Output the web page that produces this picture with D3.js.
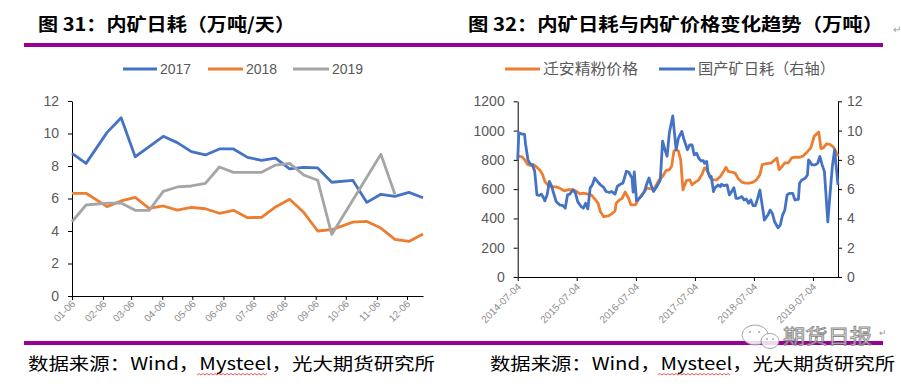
<!DOCTYPE html>
<html><head><meta charset="utf-8">
<script src="https://cdn.jsdelivr.net/npm/d3@7"></script>
<style>body{margin:0;background:#fff}svg{display:block}</style>
</head><body>
<svg id="c" width="901" height="390"></svg>
<script>
// ---------- Left chart data (图31) ----------
const leftSeriesNames = ["2017", "2018", "2019"];
const leftColors = ["#4472C4", "#ED7D31", "#A5A5A5"];
const sampleDates = ["01-06","01-20","02-10","02-24","03-10","03-24","04-07","04-21","05-05","05-19",
  "06-02","06-16","06-30","07-14","07-28","08-11","08-25","09-08","09-22","10-13",
  "10-27","11-10","11-24","12-08","12-22"];
const cons2017 = [8.78,8.16,10.07,10.97,8.57,9.19,9.83,9.44,8.88,8.68,
  9.05,9.05,8.53,8.35,8.49,7.82,7.92,7.88,7.0,7.12,
  5.76,6.26,6.13,6.38,6.05];
const cons2018 = [6.32,6.32,5.50,5.85,6.07,5.39,5.54,5.29,5.46,5.37,
  5.09,5.27,4.82,4.84,5.48,5.95,5.15,4.0,4.08,4.55,
  4.59,4.18,3.49,3.36,3.82];
const cons2019 = [4.57,5.60,5.72,5.72,5.27,5.27,6.44,6.71,6.77,6.93,
  7.94,7.61,7.61,7.61,8.06,8.16,7.45,7.12,3.79,null,
  null,8.72,6.26,null,null];
const leftMonthTicks = ["01-06","02-06","03-06","04-06","05-06","06-06","07-06","08-06","09-06","10-06","11-06","12-06"];
const leftYTicks = [0,2,4,6,8,10,12];

// ---------- Right chart data (图32) ----------
const rightStart = "2014-07-04";
const rightEndWeek = 283;
const rightDateTicks = ["2014-07-04","2015-07-04","2016-07-04","2017-07-04","2018-07-04","2019-07-04"];
const rightYTicksL = [0,200,400,600,800,1000,1200];
const rightYTicksR = [0,2,4,6,8,10,12];
const priceName = "迁安精粉价格";
const consName = "国产矿日耗（右轴）";
const priceWeeks = [0,4,6,9,12,14,17,20,22,24,
  27,30,34,37,41,45,49,52,55,58,
  61,65,68,71,73,76,80,83,86,87,
  90,92,95,98,100,104,107,111,114,117,
  120,123,125,128,131,134,136,138,140,142,
  144,145,146,149,152,154,157,160,163,165,
  167,169,172,176,179,182,184,186,189,192,
  195,198,201,205,208,211,214,216,220,224,
  229,231,233,236,239,242,245,249,252,255,
  259,262,266,268,270,273,276,279,281,283];
const priceValues = [825,820,802,767,761,767,749,726,699,653,
  625,616,616,607,589,596,596,584,568,573,
  568,561,534,504,447,412,417,431,451,504,
  527,534,580,538,493,493,534,573,607,603,
  600,635,664,687,726,733,756,859,871,859,
  802,699,596,658,664,630,648,664,703,745,
  733,699,664,664,687,722,749,722,717,710,
  671,648,641,641,648,664,699,767,774,779,
  813,733,749,779,779,813,818,818,825,848,
  882,962,990,877,882,910,905,887,859,825];
const consWeeks = [0,1,3,6,7,9,11,13,15,17,
  19,21,23,24,26,28,30,32,34,37,
  40,42,44,46,49,51,53,56,58,60,
  62,64,66,68,71,73,76,78,81,83,
  86,88,91,93,96,98,101,102,103,105,
  107,109,112,114,116,118,120,123,125,126,
  128,130,132,134,137,140,142,145,147,150,
  152,154,156,158,160,162,164,165,167,168,
  170,171,173,174,177,179,180,182,185,187,
  189,191,193,195,198,200,202,204,206,208,
  210,212,214,216,218,221,223,225,227,230,
  232,234,236,238,240,243,245,248,249,251,
  254,256,257,260,263,265,267,269,271,274,
  276,278,280,283];
const consValues = [8.0,9.85,9.78,9.74,9.05,8.02,7.72,7.67,7.22,5.61,
  5.57,5.66,5.38,5.20,5.61,6.53,6.19,5.66,5.15,4.93,
  4.88,4.70,5.61,5.66,5.96,5.73,5.15,4.81,4.70,5.04,
  4.65,6.07,6.30,6.76,6.48,6.30,6.12,5.84,5.77,5.84,
  5.66,6.19,6.35,6.41,7.22,7.17,6.76,5.80,7.17,5.20,
  5.34,5.50,5.84,6.35,6.76,6.25,5.84,6.19,6.48,6.64,
  9.28,8.71,8.25,9.85,11.0,8.69,9.49,9.94,9.37,8.69,
  9.03,9.03,8.34,8.46,8.11,7.93,7.95,7.77,7.89,7.2,
  6.79,6.86,5.83,6.06,6.29,6.17,6.33,6.24,6.29,5.6,
  5.83,6.10,5.37,5.37,5.49,5.26,5.33,5.03,5.26,4.87,
  4.87,5.37,5.94,4.91,3.89,4.23,4.57,4.34,3.77,3.36,
  3.54,4.23,4.57,5.6,5.71,5.71,5.26,5.30,6.4,6.63,
  6.74,6.97,8.0,7.66,7.66,7.77,8.23,7.66,7.2,3.77,
  5.71,7.54,8.69,6.29];

const title1 = "图 31：内矿日耗（万吨/天）";
const title2 = "图 32：内矿日耗与内矿价格变化趋势（万吨）";
const sourceText = "数据来源：Wind，Mysteel，光大期货研究所";

// ---------- drawing ----------
const svg = d3.select("#c");
const CJK = "'Noto Sans CJK SC', sans-serif";
const NUM = "'Liberation Sans', Arial, sans-serif";
const PURPLE = "#990099";
const GREY = "#595959";
const parseMD = d3.utcParse("%Y-%m-%d");
const mdDate = s => parseMD("2019-" + s);

// frame: titles + purple rules
svg.append("text").attr("x", 38).attr("y", 31).attr("font-family", CJK).attr("font-weight", 700)
  .attr("font-size", 18).attr("fill", "#000").attr("textLength", 257).attr("lengthAdjust", "spacingAndGlyphs").text(title1);
svg.append("text").attr("x", 468).attr("y", 31).attr("font-family", CJK).attr("font-weight", 700)
  .attr("font-size", 18).attr("fill", "#000").attr("textLength", 415).attr("lengthAdjust", "spacingAndGlyphs").text(title2);
svg.append("text").attr("x", 893).attr("y", 33).attr("font-size", 10).attr("fill", "#999").attr("font-family", CJK).text("↵");
[[24, 450], [450, 883]].forEach(([a, b]) => {
  svg.append("line").attr("x1", a).attr("x2", b).attr("y1", 45).attr("y2", 45).attr("stroke", PURPLE).attr("stroke-width", 4);
  svg.append("line").attr("x1", a).attr("x2", b).attr("y1", 343).attr("y2", 343).attr("stroke", PURPLE).attr("stroke-width", 4);
});
[[28, 407], [490, 405]].forEach(([x, w]) => {
  svg.append("text").attr("x", x).attr("y", 370).attr("font-family", CJK).attr("font-size", 17).attr("fill", "#000")
    .attr("textLength", w).attr("lengthAdjust", "spacingAndGlyphs").text(sourceText);
});
// spell-check wavy underline under "Mysteel"
[[197, 268], [658, 730]].forEach(([a, b]) => {
  let d = `M${a},375`;
  for (let x = a + 2, k = 0; x <= b; x += 2, k++) d += `L${x},${k % 2 ? 375 : 373.5}`;
  svg.append("path").attr("d", d).attr("fill", "none").attr("stroke", "#e03030").attr("stroke-width", 0.8);
});

function styleAxis(g) {
  g.selectAll(".domain").attr("stroke", "#000").attr("stroke-width", 1);
  g.selectAll(".tick line").attr("stroke", "#000");
  g.selectAll(".tick text").attr("fill", GREY).attr("font-family", NUM);
}

// ---------- Left chart ----------
const lx = d3.scaleUtc().domain([mdDate("01-06"), mdDate("12-22")]).range([72, 423]);
const ly = d3.scaleLinear().domain([0, 12]).range([296, 101]);

const gly = svg.append("g").attr("transform", "translate(72,0)")
  .call(d3.axisLeft(ly).tickValues(leftYTicks).tickFormat(d3.format("d")).tickSize(4).tickSizeOuter(0).tickPadding(9));
styleAxis(gly); gly.selectAll(".tick text").attr("font-size", 14);
const glx = svg.append("g").attr("transform", "translate(0,296)")
  .call(d3.axisBottom(lx).tickValues(leftMonthTicks.map(mdDate)).tickFormat(d3.utcFormat("%m-%d")).tickSize(4).tickSizeOuter(0));
styleAxis(glx);
glx.selectAll(".tick text").attr("font-size", 10).attr("fill", "#8c8c8c").attr("text-anchor", "end")
  .attr("x", 0).attr("y", 0).attr("dy", "0.35em").attr("transform", "translate(1,6) rotate(-45)");

const leftSeries = [cons2017, cons2018, cons2019];
leftSeries.forEach((vals, i) => {
  const pts = sampleDates.map((d, j) => [mdDate(d), vals[j]]).filter(p => p[1] != null);
  svg.append("path").datum(pts).attr("fill", "none").attr("stroke", leftColors[i]).attr("stroke-width", 2.8)
    .attr("stroke-linejoin", "round")
    .attr("d", d3.line().x(p => lx(p[0])).y(p => ly(p[1])));
});
// left legend
const legL = [[123, 157, 160], [208, 243, 246], [293, 329, 332]];
leftSeriesNames.forEach((n, i) => {
  const [a, b, t] = legL[i];
  svg.append("line").attr("x1", a).attr("x2", b).attr("y1", 69).attr("y2", 69).attr("stroke", leftColors[i]).attr("stroke-width", 3);
  svg.append("text").attr("x", t).attr("y", 74).attr("font-family", NUM).attr("font-size", 14).attr("fill", GREY).text(n);
});

// ---------- Right chart ----------
const start = parseMD(rightStart);
const wk = w => d3.utcDay.offset(start, w * 7);
const rx = d3.scaleUtc().domain([start, wk(rightEndWeek)]).range([517.7, 838]);
const ryL = d3.scaleLinear().domain([0, 1200]).range([277, 101.3]);
const ryR = d3.scaleLinear().domain([0, 12]).range([277, 101.3]);

const gyl = svg.append("g").attr("transform", "translate(517.7,0)")
  .call(d3.axisLeft(ryL).tickValues(rightYTicksL).tickFormat(d3.format("d")).tickSize(4).tickSizeOuter(0).tickPadding(9));
styleAxis(gyl); gyl.selectAll(".tick text").attr("font-size", 14);
const gyr = svg.append("g").attr("transform", "translate(838,0)")
  .call(d3.axisRight(ryR).tickValues(rightYTicksR).tickFormat(d3.format("d")).tickSize(4).tickSizeOuter(0).tickPadding(5));
styleAxis(gyr); gyr.selectAll(".tick text").attr("font-size", 14);
const gx = svg.append("g").attr("transform", "translate(0,277)")
  .call(d3.axisBottom(rx).tickValues(rightDateTicks.map(parseMD)).tickFormat(d3.utcFormat("%Y-%m-%d")).tickSize(4).tickSizeOuter(0));
styleAxis(gx);
gx.selectAll(".tick text").attr("font-size", 10).attr("fill", "#8c8c8c").attr("text-anchor", "end")
  .attr("x", 0).attr("y", 0).attr("dy", "0.35em").attr("transform", "translate(1,8) rotate(-45)");

const pricePts = priceWeeks.map((w, i) => [wk(w), priceValues[i]]);
const consPts = consWeeks.map((w, i) => [wk(w), consValues[i]]);
svg.append("path").datum(pricePts).attr("fill", "none").attr("stroke", "#ED7D31").attr("stroke-width", 2.8)
  .attr("stroke-linejoin", "round").attr("d", d3.line().x(p => rx(p[0])).y(p => ryL(p[1])));
svg.append("path").datum(consPts).attr("fill", "none").attr("stroke", "#4472C4").attr("stroke-width", 2.8)
  .attr("stroke-linejoin", "round").attr("d", d3.line().x(p => rx(p[0])).y(p => ryR(p[1])));

// right legend
svg.append("line").attr("x1", 505).attr("x2", 540).attr("y1", 69).attr("y2", 69).attr("stroke", "#ED7D31").attr("stroke-width", 3);
svg.append("text").attr("x", 543).attr("y", 74).attr("font-family", CJK).attr("font-size", 15).attr("fill", GREY)
  .attr("textLength", 95).attr("lengthAdjust", "spacingAndGlyphs").text(priceName);
svg.append("line").attr("x1", 659).attr("x2", 695).attr("y1", 69).attr("y2", 69).attr("stroke", "#4472C4").attr("stroke-width", 3);
svg.append("text").attr("x", 698).attr("y", 74).attr("font-family", CJK).attr("font-size", 15).attr("fill", GREY)
  .attr("textLength", 137).attr("lengthAdjust", "spacingAndGlyphs").text(consName);

// watermark
const wm = svg.append("g").attr("opacity", 0.85);
wm.append("ellipse").attr("cx", 755).attr("cy", 335).attr("rx", 13).attr("ry", 10).attr("fill", "#fff").attr("stroke", "#999").attr("stroke-width", 1);
wm.append("ellipse").attr("cx", 770).attr("cy", 341).attr("rx", 9).attr("ry", 7.5).attr("fill", "#fff").attr("stroke", "#999").attr("stroke-width", 1);
[[750, 332], [759, 332], [767, 339], [773, 339]].forEach(([x, y]) =>
  wm.append("circle").attr("cx", x).attr("cy", y).attr("r", 1).attr("fill", "#999"));
wm.append("text").attr("x", 783).attr("y", 344).attr("font-family", CJK).attr("font-size", 20)
  .attr("fill", "#fff").attr("stroke", "#777").attr("stroke-width", 0.9).attr("textLength", 89)
  .attr("lengthAdjust", "spacingAndGlyphs").text("期货日报");
svg.append("text").attr("x", 879).attr("y", 336).attr("font-size", 9).attr("fill", "#999").attr("font-family", CJK).text("↵");
</script>
</body></html>
